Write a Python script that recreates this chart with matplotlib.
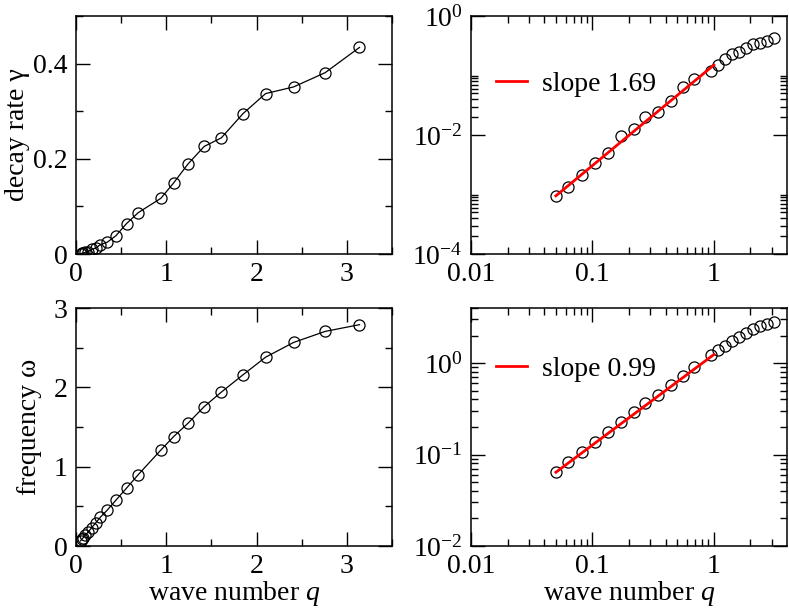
import matplotlib
matplotlib.use("Agg")
import matplotlib.pyplot as plt
from matplotlib.ticker import FixedLocator, NullFormatter

plt.rcParams['font.family'] = ['Liberation Serif', 'DejaVu Serif']
plt.rcParams['mathtext.fontset'] = 'custom'
plt.rcParams['mathtext.rm'] = 'Liberation Serif'
plt.rcParams['mathtext.it'] = 'Liberation Serif:italic'
plt.rcParams['font.size'] = 20

# data
q = [0.05, 0.063, 0.082, 0.105, 0.135, 0.172, 0.22, 0.27, 0.345, 0.44, 0.56,
     0.69, 0.94, 1.08, 1.24, 1.42, 1.61, 1.85, 2.10, 2.41, 2.76, 3.14]
gamma = [0.00095, 0.00135, 0.0021, 0.0034, 0.0050, 0.0096, 0.0125, 0.0198,
         0.0247, 0.038, 0.064, 0.087, 0.117, 0.149, 0.189, 0.226, 0.244,
         0.295, 0.337, 0.351, 0.381, 0.434]
omega = [0.064, 0.083, 0.107, 0.138, 0.177, 0.228, 0.294, 0.363, 0.451,
         0.575, 0.73, 0.90, 1.21, 1.378, 1.547, 1.757, 1.94, 2.158, 2.38,
         2.566, 2.705, 2.79]

# power-law fits (end points)
fit_q = [0.05, 1.0]
fit_gamma = [0.00095, 0.150]
fit_omega = [0.064, 1.24]
label_gamma = 'slope 1.69'
label_omega = 'slope 0.99'

W, H = 789, 608
FS = 20
fig = plt.figure(figsize=(W / 100, H / 100), dpi=100)


def box(x0, y0, x1, y1):
    return [x0 / W, 1 - y1 / H, (x1 - x0) / W, (y1 - y0) / H]


ax1 = fig.add_axes(box(76, 16, 392, 254))
ax2 = fig.add_axes(box(471, 16, 787, 254))
ax3 = fig.add_axes(box(76, 308, 392, 546))
ax4 = fig.add_axes(box(471, 308, 787, 546))

mk = dict(marker='o', markersize=8, markerfacecolor='none',
          markeredgecolor='black', markeredgewidth=0.9, color='black')
leg = dict(loc='center left', frameon=False, borderpad=0, borderaxespad=0,
           handlelength=1.1, handletextpad=0.55, fontsize=FS)


def style(ax):
    for s in ax.spines.values():
        s.set_linewidth(1.1)
    ax.tick_params(which='both', direction='in', top=True, right=True,
                   width=1.0, labelsize=FS)
    ax.tick_params(which='major', length=10, pad=6)
    ax.tick_params(which='minor', length=5)


# linear panels
ax1.plot(q, gamma, linewidth=0.9, **mk)
ax1.set_ylim(0, 0.5)
ax1.yaxis.set_major_locator(FixedLocator([0, 0.2, 0.4]))
ax1.yaxis.set_minor_locator(FixedLocator([0.1, 0.3, 0.5]))
ax1.set_yticklabels(['0', '0.2', '0.4'])
ax1.set_ylabel('decay rate γ', fontsize=FS)
ax1.yaxis.set_label_coords(-0.146, 0.5)

ax3.plot(q, omega, linewidth=0.9, **mk)
ax3.set_ylim(0, 3)
ax3.yaxis.set_major_locator(FixedLocator([0, 1, 2, 3]))
ax3.yaxis.set_minor_locator(FixedLocator([0.5, 1.5, 2.5]))
ax3.set_yticklabels(['0', '1', '2', '3'])
ax3.set_ylabel('frequency ω', fontsize=FS)
ax3.yaxis.set_label_coords(-0.108, 0.5)
ax3.set_xlabel('wave number $q$', fontsize=FS, labelpad=0)

for ax in (ax1, ax3):
    ax.set_xlim(0, 3.5)
    ax.xaxis.set_major_locator(FixedLocator([0, 1, 2, 3]))
    ax.xaxis.set_minor_locator(FixedLocator([0.5, 1.5, 2.5, 3.5]))
    ax.set_xticklabels(['0', '1', '2', '3'])
    style(ax)

# log panels
ax2.loglog(q, gamma, linestyle='none', **mk)
ax2.loglog(fit_q, fit_gamma, color='red', linewidth=2, label=label_gamma, zorder=5)
ax2.set_ylim(1e-4, 1)
ax2.yaxis.set_major_locator(FixedLocator([1e-4, 1e-2, 1]))
ax2.yaxis.set_minor_locator(FixedLocator([k * 1e-4 for k in range(2, 11)] +
                                         [k * 1e-2 for k in range(2, 11)]))
ax2.legend(bbox_to_anchor=(0.079, 0.714), **leg)

ax4.loglog(q, omega, linestyle='none', **mk)
ax4.loglog(fit_q, fit_omega, color='red', linewidth=2, label=label_omega, zorder=5)
ax4.set_ylim(1e-2, 4)
ax4.yaxis.set_major_locator(FixedLocator([1e-2, 1e-1, 1]))
ax4.yaxis.set_minor_locator(FixedLocator([k * 1e-2 for k in range(2, 10)] +
                                         [k * 1e-1 for k in range(2, 10)] +
                                         [2, 3, 4]))
ax4.legend(bbox_to_anchor=(0.079, 0.744), **leg)
ax4.set_xlabel('wave number $q$', fontsize=FS, labelpad=0)

for ax in (ax2, ax4):
    ax.set_xlim(0.01, 4)
    ax.xaxis.set_major_locator(FixedLocator([0.01, 0.1, 1]))
    ax.xaxis.set_minor_locator(FixedLocator([k * 0.01 for k in range(2, 10)] +
                                            [k * 0.1 for k in range(2, 10)] +
                                            [2, 3]))
    ax.xaxis.set_minor_formatter(NullFormatter())
    ax.yaxis.set_minor_formatter(NullFormatter())
    ax.set_xticklabels(['0.01', '0.1', '1'])
    style(ax)

fig.savefig('out.png', dpi=100)
